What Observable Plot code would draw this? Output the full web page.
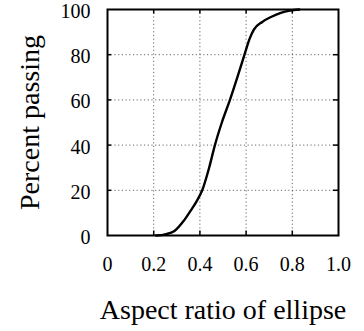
<!DOCTYPE html>
<html><head><meta charset="utf-8">
<script src="https://cdn.jsdelivr.net/npm/d3@7"></script>
<script src="https://cdn.jsdelivr.net/npm/@observablehq/plot@0.6"></script>
<style>body{margin:0;background:#fff} svg text{font-family:"Liberation Serif",serif !important;}</style>
</head><body><div id="chart"></div>
<script>
const aspectRatio = [0.21, 0.25, 0.29, 0.33, 0.36, 0.385, 0.41, 0.44, 0.465, 0.495, 0.53, 0.562, 0.593, 0.615, 0.633, 0.67, 0.71, 0.75, 0.79, 0.83];
const percentPassing = [0, 0.5, 2, 6.5, 11, 15, 20, 30, 40, 50, 60, 70, 80, 87, 91, 94.5, 96.8, 98.5, 99.5, 100];
const xTicks = [0, 0.2, 0.4, 0.6, 0.8, 1.0];
const xTickLabels = ["0", "0.2", "0.4", "0.6", "0.8", "1.0"];
const yTicks = [0, 20, 40, 60, 80, 100];
const xTitle = "Aspect ratio of ellipse";
const yTitle = "Percent passing";

const data = aspectRatio.map((x, i) => ({x, y: percentPassing[i]}));
const innerX = xTicks.filter(d => d > 0 && d < 1);
const innerY = yTicks.filter(d => d > 0 && d < 100);
const serif = "Liberation Serif";

const chart = Plot.plot({
  width: 364, height: 331,
  marginLeft: 107, marginRight: 26, marginTop: 9, marginBottom: 96,
  style: {fontFamily: serif, fontSize: "20px", background: "#fff", color: "#000"},
  x: {domain: [0, 1]},
  y: {domain: [0, 100]},
  marks: [
    Plot.gridX(innerX, {stroke: "#000", strokeOpacity: 0.6, strokeDasharray: "1.2,2.5", strokeWidth: 1}),
    Plot.gridY(innerY, {stroke: "#000", strokeOpacity: 0.6, strokeDasharray: "1.2,2.5", strokeWidth: 1}),
    Plot.ruleY(innerY, {x1: 0, x2: 0.018, stroke: "#000", strokeWidth: 1.5}),
    Plot.ruleY(innerY, {x1: 0.978, x2: 1, stroke: "#000", strokeWidth: 1.5}),
    Plot.ruleX(innerX, {y1: 0, y2: 2, stroke: "#000", strokeWidth: 1.5}),
    Plot.ruleX(innerX, {y1: 98, y2: 100, stroke: "#000", strokeWidth: 1.5}),
    Plot.line(data, {x: "x", y: "y", stroke: "#000", strokeWidth: 2.4, curve: "monotone-x"}),
    Plot.frame({stroke: "#000", strokeWidth: 2}),
    Plot.axisX(xTicks, {tickSize: 0, tickPadding: 21, tickFormat: (d, i) => xTickLabels[i], label: null, fontSize: 20, fontFamily: serif}),
    Plot.axisY(yTicks, {tickSize: 0, tickPadding: 17, label: null, fontSize: 20, fontFamily: serif, dy: 2}),
    Plot.text([xTitle], {frameAnchor: "bottom", dy: 75, fontSize: 28, fontFamily: serif, lineAnchor: "middle", textAnchor: "middle"}),
    Plot.text([yTitle], {frameAnchor: "left", dx: -77, rotate: -90, fontSize: 28, fontFamily: serif, lineAnchor: "middle", textAnchor: "middle"})
  ]
});
document.getElementById("chart").append(chart);
</script></body></html>
